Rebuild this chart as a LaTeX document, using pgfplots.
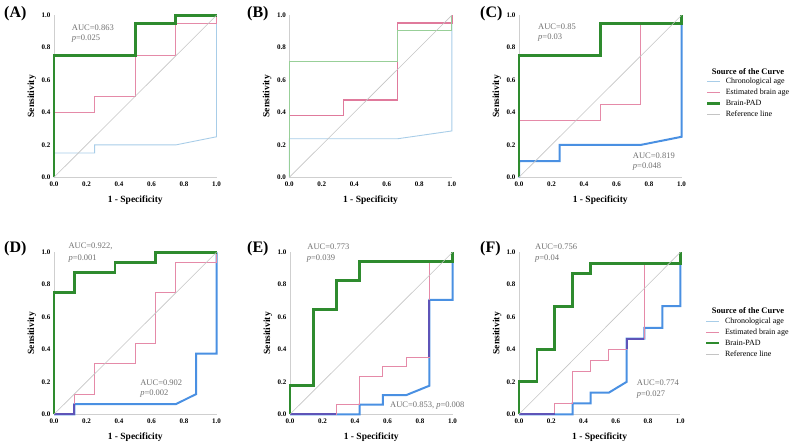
\documentclass[border=0pt]{standalone}
\usepackage{pgfplots}
\pgfplotsset{compat=1.18}
\usepackage{fontspec}
\setmainfont{Liberation Serif}
\definecolor{lblue}{HTML}{A8CDE8}
\definecolor{tblue}{HTML}{4A90E2}
\definecolor{cpink}{HTML}{E58AA8}
\definecolor{bpink}{HTML}{E07A9C}
\definecolor{cgreen}{HTML}{2E8B2E}
\definecolor{lgreen}{HTML}{98CF98}
\definecolor{refgray}{HTML}{C4C4C4}
\definecolor{cpurple}{HTML}{5E54B8}
\definecolor{axgray}{HTML}{CFCFCF}
\definecolor{txtgray}{HTML}{707070}
\tikzset{auc/.style={font=\fontsize{8.5}{10}\selectfont, text=txtgray, anchor=west, inner sep=0pt}}
\pgfplotsset{
  rocaxis/.style={
    scale only axis, width=162.5pt, height=162pt,
    xmin=0, xmax=1, ymin=0, ymax=1,
    axis x line*=bottom, axis y line*=left,
    axis line style={-, draw=axgray, line width=0.8pt},
    xtick={0,0.2,0.4,0.6,0.8,1}, ytick={0,0.2,0.4,0.6,0.8,1},
    xticklabels={0.0,0.2,0.4,0.6,0.8,1.0},
    yticklabels={0.0,0.2,0.4,0.6,0.8,1.0},
    major tick length=0pt,
    ticklabel style={font=\fontsize{7}{8}\selectfont\bfseries},
    xticklabel style={yshift=-1pt},
    xlabel={1 - Specificity}, ylabel={Sensitivity},
    label style={font=\fontsize{9.5}{11}\selectfont\bfseries},
    xlabel style={at={(axis description cs:0.5,-0.142)}, anchor=center},
    ylabel style={at={(axis description cs:-0.136,0.5)}, anchor=center},
    clip=false,
    every axis plot/.append style={line join=miter, forget plot},
  },
  roclegend/.style={
    legend image code/.code={\draw[##1] (0pt,0pt) -- (13pt,0pt);},
    legend cell align=left,
    legend style={draw=none, fill=none, inner sep=0pt, anchor=north west,
      font=\fontsize{8}{9}\selectfont,
      nodes={inner sep=0pt, text height=6.5pt, text depth=2pt},
      row sep=2.5pt, column sep=4.5pt},
  },
}
\begin{document}
\begin{tikzpicture}
\path[use as bounding box] (0,0) rectangle (798pt,446pt);
% panel labels
\node[anchor=west, inner sep=0pt, font=\fontsize{16}{18}\selectfont\bfseries] at (4pt,432pt) {(A)};
\node[anchor=west, inner sep=0pt, font=\fontsize{16}{18}\selectfont\bfseries] at (247pt,432pt) {(B)};
\node[anchor=west, inner sep=0pt, font=\fontsize{16}{18}\selectfont\bfseries] at (480pt,432pt) {(C)};
\node[anchor=west, inner sep=0pt, font=\fontsize{16}{18}\selectfont\bfseries] at (4pt,197pt) {(D)};
\node[anchor=west, inner sep=0pt, font=\fontsize{16}{18}\selectfont\bfseries] at (247pt,197pt) {(E)};
\node[anchor=west, inner sep=0pt, font=\fontsize{16}{18}\selectfont\bfseries] at (480pt,197pt) {(F)};
% legend titles
\node[inner sep=0pt, font=\fontsize{8.5}{10}\selectfont\bfseries] at (748pt,374pt) {Source of the Curve};
\node[inner sep=0pt, font=\fontsize{8.5}{10}\selectfont\bfseries] at (748pt,135.7pt) {Source of the Curve};

% ---------- A ----------
\begin{axis}[rocaxis, at={(54pt,268.7pt)}, anchor=south west]
\addplot[lblue, line width=0.9pt] coordinates {(0,0)(0,0.15)(0.25,0.15)(0.25,0.2)(0.75,0.2)(1,0.25)(1,1)};
\addplot[cpink, line width=1.2pt] coordinates {(0,0)(0,0.4)(0.25,0.4)(0.25,0.5)(0.5,0.5)(0.5,0.75)(0.75,0.75)(0.75,0.95)(1,0.95)(1,1)};
\addplot[cgreen, line width=2.8pt] coordinates {(0,0)(0,0.75)(0.5,0.75)(0.5,0.95)(0.75,0.95)(0.75,1)(1,1)};
\addplot[refgray, line width=0.6pt] coordinates {(0,0)(1,1)};
\node[auc] at (axis cs:0.109,0.923) {AUC=0.863};
\node[auc] at (axis cs:0.109,0.859) {\textit{p}=0.025};
\end{axis}

% ---------- B ----------
\begin{axis}[rocaxis, at={(289.3pt,268.7pt)}, anchor=south west]
\addplot[lblue, line width=0.9pt] coordinates {(0,0)(0,0.238)(0.667,0.238)(1,0.286)(1,1)};
\addplot[bpink, line width=1.4pt] coordinates {(0,0)(0,0.381)(0.333,0.381)(0.333,0.476)(0.667,0.476)(0.667,0.952)(1,0.952)(1,1)};
\addplot[lgreen, line width=1pt] coordinates {(0,0)(0,0.714)(0.667,0.714)(0.667,0.905)(1,0.905)(1,1)};
\addplot[refgray, line width=0.6pt] coordinates {(0,0)(1,1)};
\end{axis}

% ---------- C ----------
\begin{axis}[rocaxis, roclegend, at={(519pt,268.7pt)}, anchor=south west,
  legend style={at={(axis description cs:1.148,0.618)}}]
\addplot[tblue, line width=2pt] coordinates {(0,0)(0,0.1)(0.25,0.1)(0.25,0.2)(0.75,0.2)(1,0.25)(1,1)};
\addplot[cpink, line width=1pt] coordinates {(0,0)(0,0.35)(0.5,0.35)(0.5,0.45)(0.75,0.45)(0.75,0.95)(1,0.95)(1,1)};
\addplot[cgreen, line width=2.8pt] coordinates {(0,0)(0,0.75)(0.5,0.75)(0.5,0.95)(1,0.95)(1,1)};
\addplot[refgray, line width=0.6pt] coordinates {(0,0)(1,1)};
\addlegendimage{lblue, line width=1pt}\addlegendentry{Chronological age}
\addlegendimage{cpink, line width=1pt}\addlegendentry{Estimated brain age}
\addlegendimage{cgreen, line width=2.5pt}\addlegendentry{Brain-PAD}
\addlegendimage{refgray, line width=1pt}\addlegendentry{Reference line}
\node[auc] at (axis cs:0.117,0.93) {AUC=0.85};
\node[auc] at (axis cs:0.117,0.86) {\textit{p}=0.03};
\node[auc] at (axis cs:0.70,0.133) {AUC=0.819};
\node[auc] at (axis cs:0.70,0.065) {\textit{p}=0.048};
\end{axis}

% ---------- D ----------
\begin{axis}[rocaxis, at={(54pt,31.7pt)}, anchor=south west]
\addplot[tblue, line width=2pt] coordinates {(0,0)(0.125,0)(0.125,0.0625)(0.75,0.0625)(0.875,0.125)(0.875,0.375)(1,0.375)(1,1)};
\addplot[cpink, line width=1pt] coordinates {(0,0)(0.125,0)(0.125,0.125)(0.25,0.125)(0.25,0.3125)(0.5,0.3125)(0.5,0.4375)(0.625,0.4375)(0.625,0.75)(0.75,0.75)(0.75,0.9375)(1,0.9375)(1,1)};
\addplot[cpurple, line width=2pt] coordinates {(0,0)(0.125,0)(0.125,0.0625)};
\addplot[cgreen, line width=2.8pt] coordinates {(0,0)(0,0.75)(0.125,0.75)(0.125,0.875)(0.375,0.875)(0.375,0.9375)(0.625,0.9375)(0.625,1)(1,1)};
\addplot[refgray, line width=0.6pt] coordinates {(0,0)(1,1)};
\node[auc] at (axis cs:0.088,1.037) {AUC=0.922,};
\node[auc] at (axis cs:0.088,0.96) {\textit{p}=0.001};
\node[auc] at (axis cs:0.53,0.197) {AUC=0.902};
\node[auc] at (axis cs:0.53,0.125) {\textit{p}=0.002};
\end{axis}

% ---------- E ----------
\begin{axis}[rocaxis, at={(290pt,31.7pt)}, anchor=south west]
\addplot[tblue, line width=2pt] coordinates {(0,0)(0.429,0)(0.429,0.059)(0.571,0.059)(0.571,0.118)(0.714,0.118)(0.857,0.176)(0.857,0.706)(1,0.706)(1,0.941)(1,1)};
\addplot[cpink, line width=1pt] coordinates {(0,0)(0.286,0)(0.286,0.059)(0.429,0.059)(0.429,0.235)(0.571,0.235)(0.571,0.294)(0.714,0.294)(0.714,0.353)(0.857,0.353)(0.857,0.941)(1,0.941)(1,1)};
\addplot[cpurple, line width=2pt] coordinates {(0,0)(0.286,0)};
\addplot[cpurple, line width=2pt] coordinates {(0.857,0.353)(0.857,0.706)};
\addplot[cgreen, line width=2.8pt] coordinates {(0,0)(0,0.176)(0.143,0.176)(0.143,0.647)(0.286,0.647)(0.286,0.824)(0.429,0.824)(0.429,0.941)(1,0.941)(1,1)};
\addplot[refgray, line width=0.6pt] coordinates {(0,0)(1,1)};
\node[auc] at (axis cs:0.106,1.033) {AUC=0.773};
\node[auc] at (axis cs:0.103,0.963) {\textit{p}=0.039};
\node[auc] at (axis cs:0.615,0.051) {AUC=0.853, \textit{p}=0.008};
\end{axis}

% ---------- F ----------
\begin{axis}[rocaxis, roclegend, at={(519pt,31.7pt)}, anchor=south west, width=161.3pt,
  legend style={at={(axis description cs:1.152,0.603)}}]
\addplot[tblue, line width=2pt] coordinates {(0,0)(0.333,0)(0.333,0.067)(0.444,0.067)(0.444,0.133)(0.556,0.133)(0.667,0.2)(0.667,0.467)(0.778,0.467)(0.778,0.533)(0.889,0.533)(0.889,0.667)(1,0.667)(1,0.933)(1,1)};
\addplot[cpink, line width=1pt] coordinates {(0,0)(0.222,0)(0.222,0.067)(0.333,0.067)(0.333,0.267)(0.444,0.267)(0.444,0.333)(0.556,0.333)(0.556,0.4)(0.667,0.4)(0.667,0.467)(0.778,0.467)(0.778,0.933)(1,0.933)(1,1)};
\addplot[cpurple, line width=2pt] coordinates {(0,0)(0.222,0)};
\addplot[cpurple, line width=2pt] coordinates {(0.667,0.4)(0.667,0.467)(0.778,0.467)};
\addplot[cgreen, line width=2.8pt] coordinates {(0,0)(0,0.2)(0.111,0.2)(0.111,0.4)(0.222,0.4)(0.222,0.667)(0.333,0.667)(0.333,0.867)(0.444,0.867)(0.444,0.933)(1,0.933)(1,1)};
\addplot[refgray, line width=0.6pt] coordinates {(0,0)(1,1)};
\addlegendimage{lblue, line width=1pt}\addlegendentry{Chronological age}
\addlegendimage{cpink, line width=1pt}\addlegendentry{Estimated brain age}
\addlegendimage{cgreen, line width=2.5pt}\addlegendentry{Brain-PAD}
\addlegendimage{refgray, line width=1pt}\addlegendentry{Reference line}
\node[auc] at (axis cs:0.099,1.033) {AUC=0.756};
\node[auc] at (axis cs:0.099,0.96) {\textit{p}=0.04};
\node[auc] at (axis cs:0.73,0.195) {AUC=0.774};
\node[auc] at (axis cs:0.73,0.12) {\textit{p}=0.027};
\end{axis}
\end{tikzpicture}
\end{document}
